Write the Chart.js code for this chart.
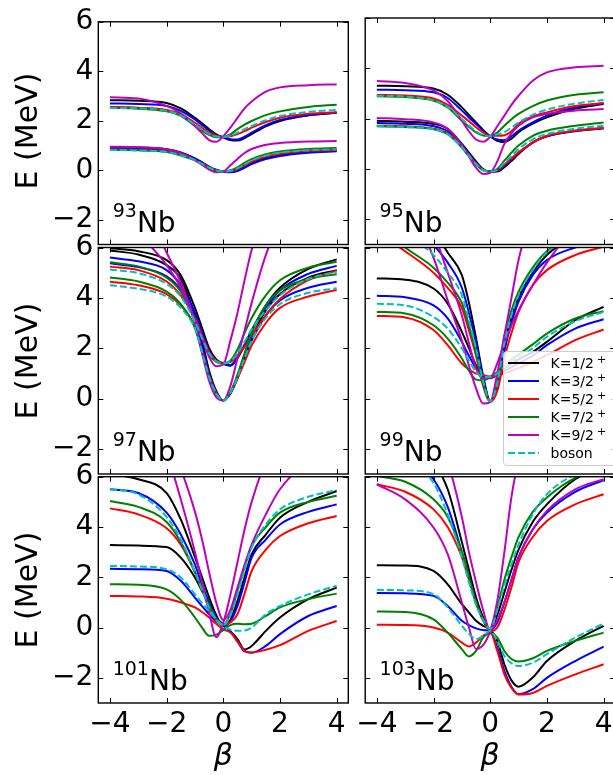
<!DOCTYPE html>
<html>
<head>
<meta charset="utf-8">
<script src="https://cdn.jsdelivr.net/npm/chart.js@4.4.0/dist/chart.umd.min.js"></script>
<style>
  html, body { margin: 0; padding: 0; background: #fff; overflow: hidden; width: 613px; height: 775px; }
  canvas { position: absolute; left: 0; top: 0; }
  .txt { position: absolute; font-family: 'DejaVu Sans'; color: #000; white-space: nowrap; z-index: 5; }
  .ylab { font-size: 30px; line-height: 30px; transform: translate(-50%, -50%) rotate(-90deg); }
  .xlab { font-size: 30px; line-height: 30px; font-style: italic; transform: translate(-50%, -50%); }
  .nuc { font-size: 28px; line-height: 28px; }
  .nuc span { font-size: 19px; vertical-align: 15px; line-height: 0; }
  #legend { position: absolute; left: 502.5px; top: 351px; width: 130px; height: 115px; box-sizing: border-box;
            border: 1px solid #cccccc; border-radius: 4px; background: rgba(255,255,255,0.85); z-index: 6; }
  #legend .row { position: absolute; left: 0; height: 18px; font: 14px 'DejaVu Sans'; line-height: 18px; }
  #legend svg { position: absolute; left: 4.5px; top: 0; }
  #legend .name { position: absolute; left: 47px; top: 0; }
  #legend sup { font-size: 11px; vertical-align: 5px; line-height: 0; margin-left: 3px; }
</style>
</head>
<body>
<script>
// deformation grid, same for every curve
const beta = [-4, -3, -2, -1.5, -1, -0.75, -0.5, -0.25, 0, 0.25, 0.5, 0.75, 1, 1.5, 2, 3, 4];
const xTicks = [-4, -2, 0, 2, 4];
const yTicks = [-2, 0, 2, 4, 6];
const seriesNames = ['K=1/2', 'K=3/2', 'K=5/2', 'K=7/2', 'K=9/2', 'boson'];
const nuclei = ['93', '95', '97', '99', '101', '103'];

// 93Nb : two levels per K
const nb93_k1 = [[0.93,0.92,0.85,0.72,0.48,0.32,0.15,0.02,-0.05,-0.07,0.0,0.14,0.3,0.5,0.62,0.74,0.79],
                 [2.83,2.81,2.72,2.5,2.12,1.9,1.66,1.45,1.33,1.22,1.2,1.3,1.46,1.78,1.99,2.22,2.32]];
const nb93_k3 = [[0.9,0.88,0.82,0.7,0.46,0.3,0.13,0.0,-0.06,-0.08,-0.03,0.1,0.25,0.45,0.58,0.71,0.77],
                 [2.7,2.68,2.6,2.4,2.05,1.83,1.6,1.42,1.33,1.25,1.24,1.36,1.52,1.82,2.03,2.22,2.32]];
const nb93_k5 = [[0.84,0.82,0.76,0.63,0.42,0.27,0.12,0.0,-0.05,-0.04,0.05,0.2,0.35,0.55,0.67,0.78,0.82],
                 [2.56,2.53,2.44,2.27,1.92,1.72,1.52,1.4,1.35,1.37,1.46,1.58,1.72,1.95,2.12,2.28,2.34]];
const nb93_k7 = [[0.83,0.81,0.74,0.6,0.4,0.25,0.1,-0.02,-0.05,0.0,0.12,0.3,0.45,0.65,0.76,0.86,0.9],
                 [2.52,2.49,2.38,2.2,1.79,1.6,1.43,1.33,1.35,1.45,1.66,1.84,1.99,2.23,2.38,2.56,2.65]];
const nb93_k9 = [[0.95,0.93,0.85,0.7,0.42,0.22,0.03,-0.08,-0.05,0.2,0.46,0.7,0.86,1.03,1.1,1.16,1.18],
                 [2.95,2.9,2.6,2.3,1.79,1.5,1.22,1.15,1.38,1.72,2.12,2.5,2.78,3.18,3.35,3.44,3.47]];
const nb93_bos = [[0.82,0.8,0.74,0.61,0.41,0.26,0.11,-0.01,-0.05,-0.02,0.08,0.24,0.4,0.6,0.71,0.81,0.85],
                  [2.52,2.5,2.4,2.22,1.85,1.65,1.47,1.36,1.35,1.4,1.52,1.66,1.79,2.02,2.19,2.36,2.44]];

// 95Nb
const nb95_k1 = [[1.92,1.88,1.79,1.6,1.0,0.65,0.3,0.0,-0.1,-0.1,0.07,0.32,0.6,1.06,1.3,1.52,1.62],
                 [3.31,3.29,3.2,2.95,2.45,2.15,1.85,1.55,1.3,1.12,1.07,1.2,1.46,1.8,2.05,2.4,2.58]];
const nb95_k3 = [[1.83,1.8,1.7,1.5,0.95,0.6,0.25,-0.03,-0.1,-0.08,0.12,0.38,0.64,1.05,1.3,1.5,1.62],
                 [3.15,3.13,3.05,2.82,2.32,2.05,1.79,1.52,1.3,1.17,1.14,1.3,1.52,1.85,2.12,2.45,2.61]];
const nb95_k5 = [[1.72,1.7,1.6,1.42,0.9,0.56,0.22,-0.03,-0.1,-0.05,0.18,0.42,0.66,1.05,1.32,1.52,1.63],
                 [2.94,2.92,2.8,2.55,2.12,1.9,1.66,1.45,1.32,1.32,1.34,1.5,1.8,2.08,2.25,2.5,2.62]];
const nb95_k7 = [[1.7,1.67,1.58,1.38,0.85,0.5,0.18,-0.05,-0.1,0.0,0.33,0.65,0.93,1.32,1.52,1.72,1.85],
                 [2.89,2.86,2.72,2.45,1.92,1.68,1.45,1.33,1.3,1.45,1.72,1.98,2.19,2.5,2.72,2.95,3.05]];
const nb95_k9 = [[2.03,1.98,1.85,1.6,0.95,0.5,0.05,-0.2,-0.15,0.3,1.0,1.42,1.72,2.05,2.19,2.32,2.38],
                 [3.5,3.42,3.12,2.7,1.92,1.5,1.17,1.08,1.28,1.7,2.12,2.55,2.91,3.51,3.84,4.04,4.1]];
const nb95_bos = [[1.7,1.67,1.58,1.38,0.87,0.53,0.2,-0.04,-0.1,-0.03,0.25,0.52,0.79,1.18,1.39,1.6,1.72],
                  [2.91,2.88,2.72,2.47,1.99,1.73,1.5,1.35,1.3,1.38,1.46,1.65,1.85,2.15,2.36,2.6,2.74]];

// 97Nb
const nb97_k1 = [[5.97,5.85,5.5,4.9,3.6,2.8,2.0,1.55,1.38,1.3,1.6,2.1,2.7,3.7,4.4,5.15,5.53],
                 [5.88,5.72,5.3,4.75,3.3,2.3,1.1,0.3,-0.08,0.2,0.85,1.65,2.4,3.5,4.15,4.8,5.1]];
const nb97_k3 = [[5.6,5.45,5.1,4.5,3.4,2.65,1.9,1.5,1.38,1.32,1.65,2.15,2.7,3.6,4.3,4.95,5.27],
                 [5.37,5.22,4.85,4.3,3.1,2.1,1.0,0.25,-0.08,0.2,0.8,1.55,2.3,3.3,3.9,4.4,4.64]];
const nb97_k5 = [[5.24,5.1,4.65,4.1,3.2,2.5,1.85,1.5,1.42,1.45,1.7,2.05,2.5,3.3,3.95,4.7,5.08],
                 [4.64,4.5,4.15,3.7,2.85,1.9,0.9,0.22,-0.08,0.22,0.8,1.45,2.1,3.0,3.6,4.05,4.31]];
const nb97_k7 = [[5.41,5.25,4.8,4.25,3.1,2.4,1.75,1.45,1.38,1.5,1.95,2.6,3.2,4.1,4.7,5.2,5.43],
                 [4.81,4.65,4.25,3.75,2.8,1.85,0.85,0.2,-0.08,0.25,0.95,1.8,2.6,3.7,4.3,4.75,4.94]];
const nb97_k9 = [[8,6.6,5.3,4.4,3.1,2.4,1.65,1.28,1.35,2.3,3.4,4.7,5.9,7.5,8.5,9.5,10],
                 [10,8.2,5.8,4.6,3.0,1.8,0.7,0.05,-0.08,0.5,1.6,2.7,3.8,5.7,7,8.5,9]];
const nb97_bos = [[5.13,4.98,4.55,4.05,3.05,2.4,1.8,1.48,1.4,1.48,1.8,2.25,2.75,3.5,4.1,4.75,5.03],
                  [4.5,4.36,4.05,3.6,2.78,1.85,0.85,0.2,-0.08,0.22,0.85,1.6,2.3,3.2,3.75,4.2,4.38]];

// 99Nb
const nb99_k1 = [[4.77,4.72,4.37,3.77,2.65,2.0,1.32,0.93,0.86,1.0,1.2,1.38,1.55,1.85,2.25,3.11,3.64],
                 [9,8,6.7,5.8,4.9,3.8,2.4,0.9,-0.1,0.6,2.2,3.2,4.0,5.0,5.7,6.5,7]];
const nb99_k3 = [[4.08,4.02,3.7,3.18,2.25,1.7,1.19,0.85,0.8,0.95,1.1,1.25,1.4,1.7,2.12,2.78,3.15],
                 [8.3,7.2,6.1,5.4,4.4,3.4,2.2,0.8,-0.12,0.4,1.9,3.0,3.85,4.9,5.5,6.0,6.3]];
const nb99_k5 = [[3.28,3.22,2.72,2.12,1.39,1.15,0.99,0.93,0.86,0.9,1.0,1.1,1.2,1.45,1.72,2.32,2.74],
                 [6.6,5.85,5.0,4.4,3.6,2.7,1.7,0.5,-0.13,0.3,1.6,2.6,3.44,4.5,5.1,5.7,6.03]];
const nb99_k7 = [[3.44,3.38,2.91,2.38,1.59,1.1,0.75,0.72,0.85,1.05,1.3,1.55,1.75,2.15,2.58,3.18,3.47],
                 [6.9,6.0,5.2,4.6,3.8,2.9,1.8,0.6,-0.12,0.7,2.5,3.5,4.24,5.2,5.85,6.5,6.8]];
const nb99_k9 = [[10,8,5.6,3.9,2.3,1.3,0.4,-0.2,-0.15,1.0,2.5,4.0,5.5,7.5,9,10,11],
                 [11,9,6.6,5.0,3.3,2.2,1.2,0.8,0.82,1.4,2.2,2.9,3.5,4.5,5.4,6.8,7.5]];
const nb99_bos = [[3.76,3.7,3.24,2.78,1.99,1.5,1.06,0.85,0.85,1.0,1.25,1.45,1.65,2.0,2.45,3.07,3.44],
                  [7.6,6.6,5.7,5.0,4.1,3.1,2.0,0.7,-0.12,0.6,2.2,3.3,4.1,5.1,5.8,6.4,6.7]];

// 101Nb
const nb101_k1 = [[3.28,3.26,3.2,2.78,1.99,1.45,0.93,0.4,0.13,-0.15,-0.46,-0.87,-0.73,-0.13,0.4,1.13,1.59],
                  [6.1,5.9,5.35,4.3,2.8,2.0,1.2,0.5,0.05,0.3,1.06,2.0,2.91,3.7,4.37,5.0,5.43]];
const nb101_k3 = [[2.34,2.32,2.25,1.86,1.19,0.85,0.53,0.25,0.07,-0.15,-0.55,-0.95,-1.0,-0.73,-0.26,0.46,0.86],
                  [5.5,5.35,4.57,3.7,2.5,1.7,1.0,0.4,0.05,0.25,0.86,1.8,2.78,3.5,4.1,4.6,4.9]];
const nb101_k5 = [[1.26,1.24,1.15,1.0,0.8,0.62,0.4,0.15,-0.07,-0.2,-0.55,-0.92,-0.99,-0.88,-0.7,-0.13,0.26],
                  [4.74,4.5,3.95,3.3,2.2,1.5,0.8,0.3,0.1,0.2,0.53,1.35,2.25,3.1,3.64,4.15,4.44]];
const nb101_k7 = [[1.72,1.7,1.52,1.1,0.4,0.0,-0.33,-0.28,-0.1,0.1,0.15,0.13,0.15,0.46,0.8,1.13,1.35],
                  [5.03,4.8,4.2,3.4,2.2,1.5,0.9,0.35,0.1,0.55,1.46,2.4,3.24,4.0,4.57,5.0,5.24]];
const nb101_k9 = [[14,10.5,7,5.1,3.0,1.8,0.6,-0.38,0.2,1.3,2.6,3.9,5.0,6.6,7.6,8.5,9],
                  [12,9.5,7.5,6.3,4.6,3.5,2.2,1.0,0.3,0.7,1.6,2.5,3.3,4.5,5.5,6.6,7]];
const nb101_bos = [[2.45,2.43,2.32,1.99,1.32,0.98,0.66,0.35,0.07,-0.08,-0.13,-0.12,0.0,0.53,0.86,1.32,1.66],
                   [5.5,5.3,4.4,3.5,2.2,1.5,0.8,0.3,0.1,0.5,1.32,2.3,3.18,4.1,4.7,5.2,5.46]];

// 103Nb
const nb103_k1 = [[2.48,2.47,2.25,1.72,0.93,0.6,0.27,0.07,-0.07,-0.53,-1.46,-2.1,-2.35,-1.99,-1.33,-0.53,0.07],
                  [9,8,6.6,5.5,3.4,2.3,1.2,0.4,-0.1,0.5,1.4,2.3,3.1,4.2,4.9,5.9,6.4]];
const nb103_k3 = [[1.37,1.36,1.26,0.86,0.27,0.1,-0.03,-0.1,-0.13,-0.8,-1.72,-2.35,-2.65,-2.45,-2.0,-1.33,-0.76],
                  [8,7,5.9,4.8,3.0,2.0,1.0,0.3,-0.1,0.2,1.0,1.9,2.8,3.9,4.57,5.4,5.86]];
const nb103_k5 = [[0.11,0.1,0.0,-0.2,-0.6,-0.75,-0.6,-0.33,-0.2,-0.93,-1.86,-2.4,-2.66,-2.6,-2.32,-1.86,-1.46],
                  [5.7,5.4,4.7,4.0,2.8,1.9,1.0,0.3,-0.15,0.0,0.7,1.6,2.6,3.6,4.24,4.9,5.3]];
const nb103_k7 = [[0.64,0.62,0.33,-0.2,-0.86,-1.15,-0.93,-0.4,-0.24,-0.4,-0.93,-1.25,-1.35,-1.22,-0.93,-0.53,-0.2],
                  [6.03,5.8,5.1,4.4,3.0,2.0,1.0,0.3,-0.1,0.8,1.9,2.8,3.6,4.6,5.17,5.95,6.3]];
const nb103_k9 = [[5.7,5.1,3.98,2.92,1.0,0.0,-0.85,-0.7,-0.13,1.06,3.0,5.2,6.6,8,9,10,11],
                  [12,10,8,6.6,4.4,3.0,1.8,0.7,-0.1,0.3,1.0,1.9,2.8,3.9,4.64,5.5,5.9]];
const nb103_bos = [[1.5,1.48,1.33,0.8,0.07,-0.25,-0.46,-0.33,-0.13,-0.53,-1.13,-1.42,-1.53,-1.4,-1.06,-0.4,0.16],
                   [7.8,6.8,5.75,4.5,2.8,1.8,0.9,0.3,-0.05,0.7,1.7,2.5,3.3,4.5,5.3,6.1,6.5]];

const panels = [
  [nb93_k1, nb93_k3, nb93_k5, nb93_k7, nb93_k9, nb93_bos],
  [nb95_k1, nb95_k3, nb95_k5, nb95_k7, nb95_k9, nb95_bos],
  [nb97_k1, nb97_k3, nb97_k5, nb97_k7, nb97_k9, nb97_bos],
  [nb99_k1, nb99_k3, nb99_k5, nb99_k7, nb99_k9, nb99_bos],
  [nb101_k1, nb101_k3, nb101_k5, nb101_k7, nb101_k9, nb101_bos],
  [nb103_k1, nb103_k3, nb103_k5, nb103_k7, nb103_k9, nb103_bos]
];

// styles / layout
const colors = ['#000000', '#0000ff', '#ff0000', '#008000', '#bf00bf', '#00bfbf'];
const W = 640, H = 775;
const cols = [[98.3, 348.3], [365.2, 615.2]];
const rows = [[18, 244.5], [247.5, 474], [476.7, 703]];

const fmt = v => (v < 0 ? '\u2212' + Math.abs(v) : String(v));

// frame + inward ticks on all four sides, like matplotlib
const frame = {
  id: 'frame',
  afterDraw(chart) {
    const { ctx, chartArea: a, scales: { x, y } } = chart;
    ctx.save();
    ctx.strokeStyle = '#000';
    ctx.lineWidth = 1;
    ctx.beginPath();
    xTicks.forEach(v => {
      const px = Math.round(x.getPixelForValue(v)) + 0.5;
      ctx.moveTo(px, a.top); ctx.lineTo(px, a.top + 5);
      ctx.moveTo(px, a.bottom); ctx.lineTo(px, a.bottom - 5);
    });
    yTicks.forEach(v => {
      const py = Math.round(y.getPixelForValue(v)) + 0.5;
      ctx.moveTo(a.left, py); ctx.lineTo(a.left + 5, py);
      ctx.moveTo(a.right, py); ctx.lineTo(a.right - 5, py);
    });
    ctx.stroke();
    ctx.lineWidth = 1.4;
    ctx.strokeRect(a.left, a.top, a.right - a.left, a.bottom - a.top);
    ctx.restore();
  }
};

panels.forEach((series, idx) => {
  const row = Math.floor(idx / 2), col = idx % 2;
  const [l, r] = cols[col];
  const [t, b] = rows[row];
  const cv = document.createElement('canvas');
  cv.width = W; cv.height = H;
  cv.style.width = W + 'px'; cv.style.height = H + 'px';
  document.body.appendChild(cv);

  const datasets = [];
  series.forEach((curves, s) => {
    curves.forEach(vals => {
      datasets.push({
        label: seriesNames[s],
        data: beta.map((bv, i) => ({ x: bv, y: vals[i] })),
        borderColor: colors[s],
        borderWidth: 2,
        borderDash: s === 5 ? [7, 3] : [],
        pointRadius: 0,
        cubicInterpolationMode: 'monotone',
        fill: false,
        clip: 0,
        order: 5 - s
      });
    });
  });

  new Chart(cv, {
    type: 'line',
    data: { datasets },
    options: {
      responsive: false,
      animation: false,
      events: [],
      devicePixelRatio: 1,
      // axis boxes take the whole margin so the plot area lands where it should
      layout: { padding: { left: 0, right: W - r, top: t, bottom: 0 } },
      plugins: { legend: { display: false }, tooltip: { enabled: false } },
      scales: {
        x: {
          type: 'linear', min: -4.41, max: 4.41,
          grid: { display: false, drawTicks: false }, border: { display: false },
          afterBuildTicks: s => { s.ticks = xTicks.map(v => ({ value: v })); },
          afterFit: s => { s.height = H - b; },
          ticks: { display: row === 2, autoSkip: false, maxRotation: 0, padding: 5, color: '#000',
                   font: { family: 'DejaVu Sans', size: 28 }, callback: fmt }
        },
        y: {
          type: 'linear', min: -3, max: 6,
          grid: { display: false, drawTicks: false }, border: { display: false },
          afterBuildTicks: s => { s.ticks = yTicks.map(v => ({ value: v })); },
          afterFit: s => { s.width = l; },
          ticks: { display: col === 0, autoSkip: false, padding: 5, color: '#000',
                   font: { family: 'DejaVu Sans', size: 28 }, callback: fmt }
        }
      }
    },
    plugins: [frame]
  });

  // nucleus label
  const nuc = document.createElement('div');
  nuc.className = 'txt nuc';
  nuc.style.left = (l + 14.4) + 'px';
  nuc.style.top = (b - 12 - 23.7) + 'px';
  nuc.innerHTML = '<span>' + nuclei[idx] + '</span>Nb';
  document.body.appendChild(nuc);

  if (col === 0) {
    const yl = document.createElement('div');
    yl.className = 'txt ylab';
    yl.style.left = '27px';
    yl.style.top = ((t + b) / 2) + 'px';
    yl.textContent = 'E (MeV)';
    document.body.appendChild(yl);
  }
  if (row === 2) {
    const xl = document.createElement('div');
    xl.className = 'txt xlab';
    xl.style.left = ((l + r) / 2) + 'px';
    xl.style.top = '755px';
    xl.textContent = '\u03b2';
    document.body.appendChild(xl);
  }
});

// legend inside the 99Nb panel
const leg = document.createElement('div');
leg.id = 'legend';
seriesNames.forEach((name, s) => {
  const rowEl = document.createElement('div');
  rowEl.className = 'row';
  rowEl.style.top = (2.3 + 18 * s) + 'px';
  rowEl.style.width = '130px';
  const dash = s === 5 ? ' stroke-dasharray="7,3"' : '';
  const text = s === 5 ? name : name + '<sup>+</sup>';
  rowEl.innerHTML = '<svg width="32" height="18"><line x1="0" y1="9" x2="31" y2="9" stroke="' + colors[s] +
                    '" stroke-width="2"' + dash + '/></svg><span class="name">' + text + '</span>';
  leg.appendChild(rowEl);
});
document.body.appendChild(leg);
</script>
</body>
</html>
